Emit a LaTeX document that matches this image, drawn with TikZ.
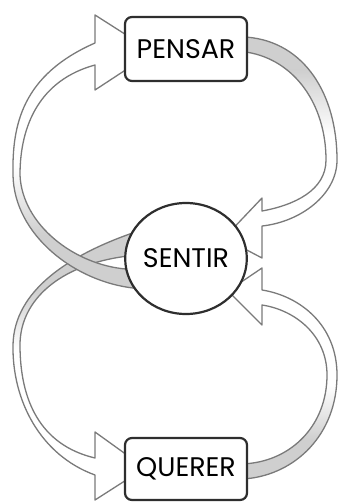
\documentclass[tikz,border=0pt]{standalone}
\usepackage{fontspec}
\setmainfont{Poppins}
\usetikzlibrary{shapes.geometric, positioning, backgrounds}
\definecolor{rim}{HTML}{7A7A7A}
\definecolor{fold}{HTML}{CFCFCF}
\definecolor{edge}{HTML}{2E2E2E}
\tikzset{
    box/.style={
        rectangle, rounded corners=7bp, minimum width=122bp, minimum height=62bp,
        draw=edge, line width=2.2bp, fill=white, outer sep=0pt,
        font=\fontsize{27}{32}\selectfont
    },
    bubble/.style={
        ellipse, minimum width=120bp, minimum height=111bp, inner sep=0pt,
        draw=edge, line width=2.2bp, fill=white, outer sep=0pt,
        font=\fontsize{27}{32}\selectfont
    },
    ribbon/.style={
        fill=white, draw=rim, line width=1.3bp, line join=round
    }
}
\begin{document}
\begin{tikzpicture}[x=1bp, y=-1bp]
    \useasboundingbox (0,0) rectangle (339,502);

    \node[box, minimum height=64bp]       (pensar) at (186,49) {PENSAR};
    \node[bubble, below=122bp of pensar]  (sentir) {SENTIR};
    \node[box, below=124bp of sentir]     (querer) {QUERER};

    \begin{scope}[on background layer]
    % sentir -> querer, left side
    \draw[ribbon, path picture={
            \fill[fold] (0,200) rectangle (140,290);
            \shade[top color=fold, bottom color=white] (0,290) rectangle (140,350);}]
        (sentir.155) .. controls (70,255) and (14,290) .. (13,345)
        .. controls (12,400) and (40,455) .. (95,475)
        -- (95,500) -- (145,468) -- (95,432) -- (95,458)
        .. controls (40,445) and (20,400) .. (20,345)
        .. controls (20,300) and (60,265) .. (sentir.178) -- cycle;
    % sentir -> pensar, left side
    \draw[ribbon, path picture={
            \fill[fold] (0,235) rectangle (140,300);
            \shade[top color=white, bottom color=fold] (0,165) rectangle (140,235);}]
        (sentir.210) .. controls (75,282) and (14,235) .. (13,175)
        .. controls (12,125) and (22,75) .. (95,43)
        -- (95,15) -- (153,52) -- (95,90) -- (95,65)
        .. controls (40,80) and (20,125) .. (20,175)
        .. controls (22,225) and (75,265) .. (sentir.190) -- cycle;
    % pensar -> sentir, right side
    \draw[ribbon, path picture={
            \fill[fold] (240,0) rectangle (339,70);
            \shade[top color=fold, bottom color=white] (240,70) rectangle (339,135);}]
        (pensar.11) .. controls (305,42) and (337,95) .. (337,160)
        .. controls (337,195) and (300,222) .. (262,226)
        -- (262,258) -- (224,238) -- (262,198) -- (262,211)
        .. controls (295,205) and (326,190) .. (326,160)
        .. controls (326,105) and (295,60) .. (pensar.-3) -- cycle;
    % querer -> sentir, right side
    \draw[ribbon, path picture={
            \fill[fold] (240,440) rectangle (339,502);
            \shade[top color=white, bottom color=fold] (240,385) rectangle (339,440);}]
        (querer.-9) .. controls (295,474) and (337,435) .. (337,375)
        .. controls (337,325) and (300,296) .. (262,290)
        -- (262,268) -- (228,291) -- (262,325) -- (262,305)
        .. controls (295,310) and (327,335) .. (327,375)
        .. controls (327,425) and (292,460) .. (querer.5) -- cycle;
    \end{scope}

\end{tikzpicture}
\end{document}
